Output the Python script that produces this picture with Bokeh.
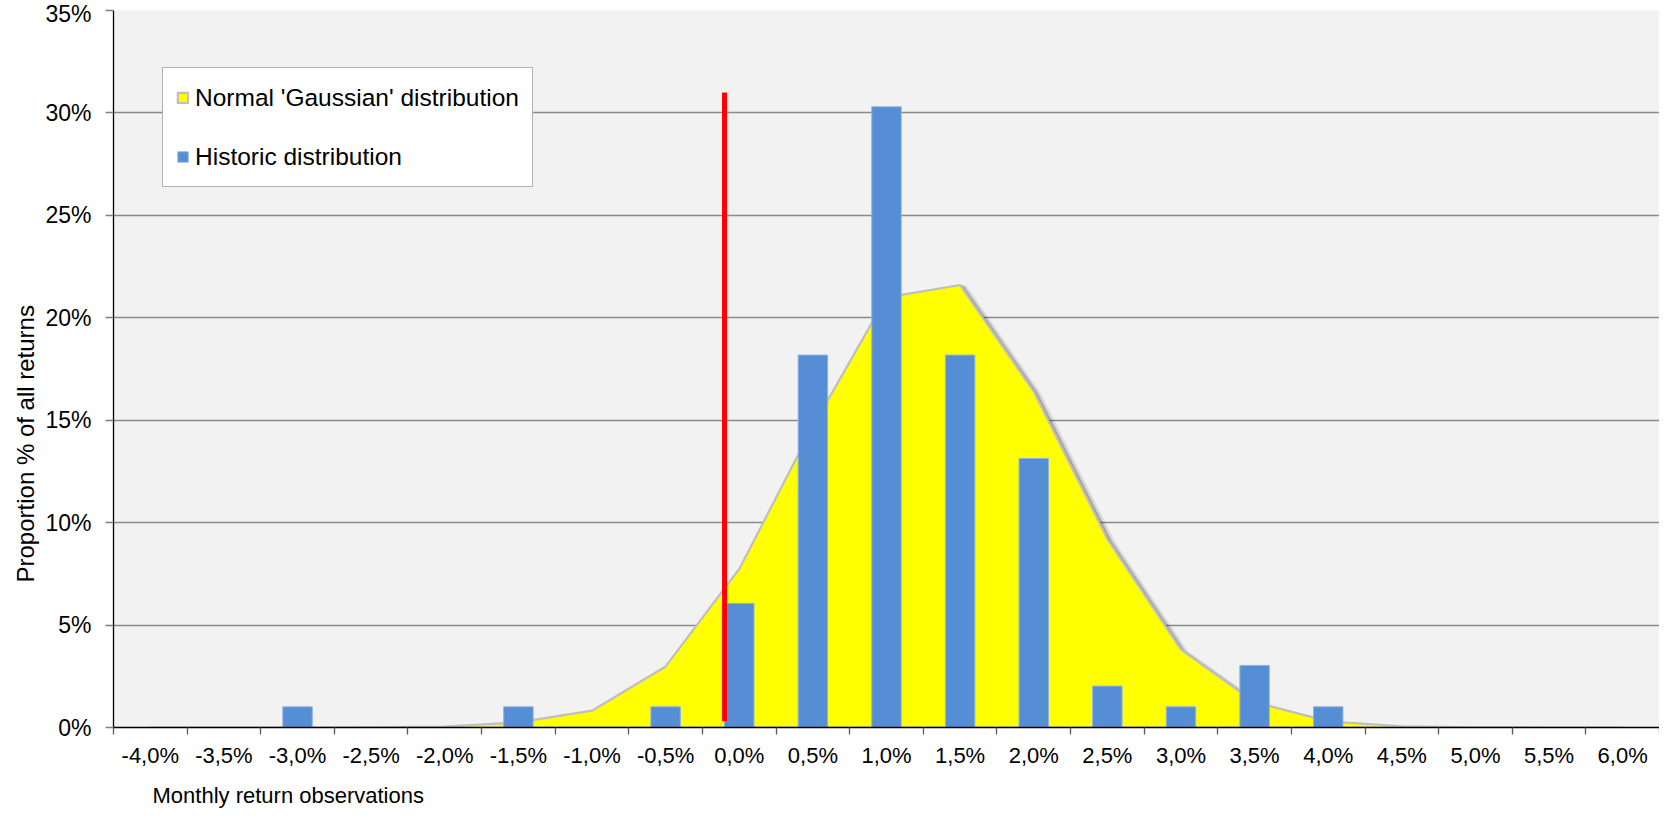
import math
from bokeh.plotting import figure
from bokeh.models import (FixedTicker, PrintfTickFormatter, Title, Legend,
                          LegendItem, Range1d)
from bokeh.embed import file_html
from bokeh.resources import INLINE

# ---------------- data ----------------
categories = ["-4,0%", "-3,5%", "-3,0%", "-2,5%", "-2,0%", "-1,5%", "-1,0%",
              "-0,5%", "0,0%", "0,5%", "1,0%", "1,5%", "2,0%", "2,5%",
              "3,0%", "3,5%", "4,0%", "4,5%", "5,0%", "5,5%", "6,0%"]
category_returns = [-4.0, -3.5, -3.0, -2.5, -2.0, -1.5, -1.0, -0.5, 0.0, 0.5,
                    1.0, 1.5, 2.0, 2.5, 3.0, 3.5, 4.0, 4.5, 5.0, 5.5, 6.0]
gaussian_pct = [0.0, 0.0, 0.0, 0.01, 0.05, 0.25, 0.82, 2.98, 7.74, 14.7,
                21.0, 21.6, 16.4, 9.2, 3.8, 1.24, 0.3, 0.06, 0.01, 0.0, 0.0]
historic_pct = [0.0, 0.0, 1.01, 0.0, 0.0, 1.01, 0.0, 1.01, 6.06, 18.18,
                30.3, 18.18, 13.13, 2.02, 1.01, 3.03, 1.01, 0.0, 0.0, 0.0, 0.0]
red_line_return = -0.1
red_line_bottom = 0.3
red_line_top = 31.0
y_ticks = [0, 5, 10, 15, 20, 25, 30, 35]
y_max = 35

# ---------------- layout ----------------
W, H = 1659, 817
border_left, border_right, border_top, border_bottom = 113, 0, 10, 88
frame_w = W - border_left - border_right
frame_h = H - border_top - border_bottom
n = len(categories)
idx = list(range(n))
step = category_returns[1] - category_returns[0]

p = figure(width=W, height=H, output_backend="svg", toolbar_location=None,
           x_range=Range1d(-0.5, n - 0.5), y_range=Range1d(0, y_max),
           min_border_left=border_left, min_border_right=border_right,
           min_border_top=border_top, min_border_bottom=border_bottom)
p.background_fill_color = "#f2f2f2"
p.border_fill_color = "white"
p.outline_line_color = None

FONT = "Liberation Sans"

# grid
p.xgrid.grid_line_color = None
p.ygrid.ticker = FixedTicker(ticks=y_ticks)
p.ygrid.grid_line_color = "#8a8a8a"
p.ygrid.grid_line_width = 1.6

# y axis
p.yaxis.ticker = FixedTicker(ticks=y_ticks)
p.yaxis.formatter = PrintfTickFormatter(format="%d%%")
p.yaxis.major_label_text_font = FONT
p.yaxis.major_label_text_font_size = "23px"
p.yaxis.major_label_text_color = "black"
p.yaxis.major_tick_out = 8
p.yaxis.major_tick_in = 0
p.yaxis.major_tick_line_color = "#7f7f7f"
p.yaxis.major_tick_line_width = 1.5
p.yaxis.minor_tick_line_color = None
p.yaxis.major_label_standoff = 14
p.yaxis.axis_line_color = "black"
p.yaxis.axis_line_width = 1.3

# x axis
p.xaxis.ticker = FixedTicker(ticks=idx, minor_ticks=[i - 0.5 for i in range(n + 1)])
p.xaxis.major_label_overrides = {i: categories[i] for i in idx}
p.xaxis.major_label_text_font = FONT
p.xaxis.major_label_text_font_size = "22px"
p.xaxis.major_label_text_color = "black"
p.xaxis.major_tick_line_color = None
p.xaxis.major_tick_out = 0
p.xaxis.major_tick_in = 0
p.xaxis.minor_tick_line_color = "#595959"
p.xaxis.minor_tick_line_width = 1.3
p.xaxis.minor_tick_out = 7
p.xaxis.minor_tick_in = 0
p.xaxis.major_label_standoff = 8
p.xaxis.axis_line_color = "black"
p.xaxis.axis_line_width = 1.3

# ---------------- glyphs ----------------
# soft drop shadow of the gaussian area (offset down-right by a few pixels)
px_x = n / frame_w
px_y = y_max / frame_h
for off, lw, a in [(4, 8, 0.08), (3, 5, 0.14), (2, 2.5, 0.2)]:
    p.line([i + off * px_x for i in idx], [g - off * px_y for g in gaussian_pct],
           line_color="black", line_alpha=a, line_width=lw, line_join="round")

area_xs = idx + [idx[-1], idx[0]]
area_ys = gaussian_pct + [0, 0]
area_r = p.patch(area_xs, area_ys, fill_color="#ffff00", line_color="#bfbfbf",
                 line_width=2.2, line_join="round")

bx = [i for i in idx if historic_pct[i] > 0]
bt = [historic_pct[i] for i in bx]
bar_r = p.vbar(x=bx, top=bt, width=0.4, bottom=0, fill_color="#558ed5",
               line_color="#8db4e2", line_width=1)

red_x = (red_line_return - category_returns[0]) / step
p.segment(x0=[red_x], y0=[red_line_bottom], x1=[red_x], y1=[red_line_top],
          line_color="#ff0000", line_width=5, line_cap="butt")

# ---------------- legend ----------------
leg_h = 2 * 13 + 33 * 2 + 26
legend = Legend(items=[LegendItem(label="Normal 'Gaussian' distribution", renderers=[area_r]),
                       LegendItem(label="Historic distribution", renderers=[bar_r])],
                location=(49, frame_h - 61 - leg_h),
                label_text_font=FONT, label_text_font_size="24.5px",
                label_text_color="black",
                glyph_width=13, glyph_height=13, label_height=33, spacing=26,
                padding=13, label_standoff=6, margin=0,
                border_line_color="#666666", border_line_width=1.2,
                background_fill_color="white", background_fill_alpha=1.0)
p.add_layout(legend)

# ---------------- axis titles ----------------
p.add_layout(Title(text="Monthly return observations", align="left", offset=39,
                   text_font=FONT, text_font_size="22px", text_font_style="normal",
                   text_color="black", standoff=20), "below")
p.add_layout(Title(text="Proportion % of all returns", align="left", offset=145,
                   text_font=FONT, text_font_size="24px", text_font_style="normal",
                   text_color="black", standoff=7), "left")

open("out.html", "w").write(file_html(p, INLINE))
